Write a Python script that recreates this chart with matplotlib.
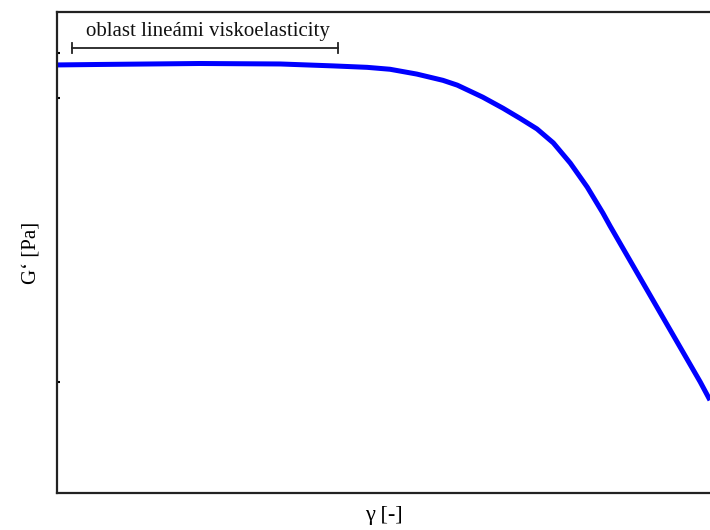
"""Storage modulus G' versus strain amplitude, with the linear viscoelastic region marked."""

import numpy as np
import matplotlib.pyplot as plt

plt.rcParams["font.family"] = ["Liberation Serif", "DejaVu Serif"]

# strain (arbitrary units, 0..100) and G' (arbitrary units, 0..100)
gamma = [0, 6.6, 21.9, 34.2, 42.3, 47.5, 51.0, 55.1, 59.1, 61.3, 65.2, 68.3,
         70.9, 73.5, 76.0, 78.6, 81.2, 83.6, 84.7, 89.3, 93.9, 98.5, 100]
g_prime = [89.0, 89.1, 89.3, 89.2, 88.8, 88.5, 88.1, 87.1, 85.8, 84.8, 82.3, 80.0,
           77.9, 75.7, 72.8, 68.6, 63.6, 58.2, 55.5, 44.7, 33.9, 23.1, 19.3]

lve_start, lve_end = 2.3, 43.0
lve_level = 92.5
lve_label = "oblast lineámi viskoelasticity"
left_ticks = [23.1, 82.1, 91.5]

fig = plt.figure(figsize=(7.1, 5.3), dpi=100)
ax = fig.add_axes([0.0803, 0.0698, 0.9197, 0.9075])

ax.plot(gamma, g_prime, color="#0000ff", linewidth=3.6,
        solid_capstyle="butt", solid_joinstyle="round")

# bracket over the linear viscoelastic region
ax.plot([lve_start, lve_end], [lve_level, lve_level], color="#222222", linewidth=1.3)
for xe in (lve_start, lve_end):
    ax.plot([xe, xe], [lve_level - 1.0, lve_level + 1.0], color="#222222", linewidth=1.3)
ax.text((lve_start + lve_end) / 2 + 0.5, lve_level + 1.4, lve_label,
        ha="center", va="bottom", fontsize=15, color="#111111")

ax.set_xlim(0, 100)
ax.set_ylim(0, 100)

ax.set_xticks([])
ax.set_yticks(left_ticks)
ax.tick_params(axis="y", direction="in", length=2, width=1.5, labelleft=False)

for side in ("left", "bottom", "top"):
    ax.spines[side].set_linewidth(1.6)
    ax.spines[side].set_color("#222222")
ax.spines["right"].set_visible(False)

ax.set_xlabel("γ [-]", fontsize=16, labelpad=9)
ax.set_ylabel("G‘ [Pa]", fontsize=15, labelpad=12)

fig.savefig("out.png", dpi=100)
